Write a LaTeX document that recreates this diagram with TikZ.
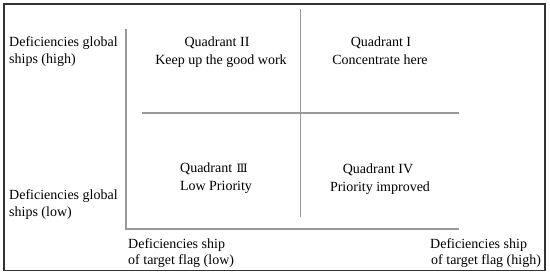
\documentclass[tikz,border=0pt]{standalone}
\usepackage{fontspec}
\setmainfont{Liberation Serif}
\newfontfamily\romfont{DejaVu Serif}
\begin{document}
\begin{tikzpicture}[x=1pt,y=-1pt,
  frame/.style={draw=black!80,line width=1.5pt},
  axisline/.style={draw=black!40,line width=1.2pt},
  lbl/.style={inner sep=0pt,font=\fontsize{14}{17.5}\selectfont},
  ctr/.style={lbl,anchor=base},
  lft/.style={lbl,anchor=base west}]
\useasboundingbox (0,0) rectangle (550,276);
\draw[frame] (4,4) rectangle (545,270.5);
% axes
\coordinate (ytop) at (126,29);
\coordinate (origin) at (126,229);
\coordinate (xend) at (459,229);
\draw[axisline] (ytop) -- (origin) -- (xend);
% quadrant dividers
\coordinate (vtop) at (300.5,9);
\coordinate (vbot) at (300.5,217);
\coordinate (hl) at (142,113);
\coordinate (hr) at (459,113);
\draw[axisline] (vtop) -- (vbot);
\draw[axisline] (hl) -- (hr);
% quadrant texts
\node[ctr] (q2a) at (217,46) {Quadrant II};
\node[ctr] (q2b) at (221,64) {Keep up the good work};
\node[ctr] (q1a) at (381,46) {Quadrant I};
\node[ctr] (q1b) at (380,64) {Concentrate here};
\node[ctr] (q3a) at (214,172) {Quadrant\hspace{4.5pt}{\romfont\fontsize{11.5}{14}\selectfont Ⅲ}};
\node[ctr] (q3b) at (216,190) {Low Priority};
\node[ctr] (q4a) at (378,173) {Quadrant IV};
\node[ctr] (q4b) at (380,191) {Priority improved};
% axis labels
\node[lft] (yh1) at (9,46) {Deficiencies global};
\node[lft] (yh2) at (9,63) {ships (high)};
\node[lft] (yl1) at (9,199) {Deficiencies global};
\node[lft] (yl2) at (9,216) {ships (low)};
\node[lft] (xl1) at (128,248) {Deficiencies ship};
\node[lft] (xl2) at (128,264) {of target flag (low)};
\node[lft] (xh1) at (430,248) {Deficiencies ship};
\node[lft] (xh2) at (431,264) {of target flag (high)};
\end{tikzpicture}
\end{document}
